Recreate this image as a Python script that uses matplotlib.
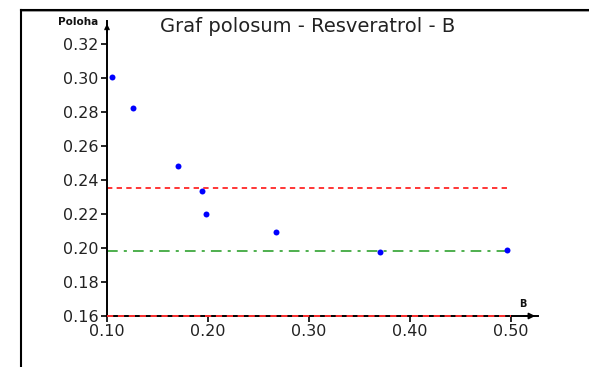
import matplotlib
matplotlib.use("Agg")
import matplotlib.pyplot as plt
from matplotlib.lines import Line2D

# Data
b_values = [0.105, 0.126, 0.1706, 0.1938, 0.1977, 0.2673, 0.370, 0.496]
poloha = [0.3003, 0.2821, 0.2483, 0.2334, 0.2197, 0.2091, 0.1974, 0.1986]
red_level = 0.2353
green_level = 0.198
bottom_level = 0.16
x_ticks = [0.10, 0.20, 0.30, 0.40, 0.50]
y_ticks = [0.16, 0.18, 0.20, 0.22, 0.24, 0.26, 0.28, 0.30, 0.32]
title = "Graf polosum - Resveratrol - B"

W, H = 589, 367
fig = plt.figure(figsize=(W / 100, H / 100), dpi=100)

# axes geometry (pixel based)
x0_px, x50_px, xend_px = 107, 511, 538
y16_px, y32_px, ytop_px = 316, 43.5, 21
px_per_x = (x50_px - x0_px) / 0.4
px_per_y = (y16_px - y32_px) / 0.16
xmax = 0.5 + (xend_px - x50_px) / px_per_x
ymax = 0.32 + (y32_px - ytop_px) / px_per_y

ax = fig.add_axes([x0_px / W, (H - y16_px) / H,
                   (xend_px - x0_px) / W, (y16_px - ytop_px) / H])
ax.set_xlim(0.10, xmax)
ax.set_ylim(0.16, ymax)
for s in ("top", "right"):
    ax.spines[s].set_visible(False)
for s in ("left", "bottom"):
    ax.spines[s].set_linewidth(1.4)
    ax.spines[s].set_color("black")

ax.set_xticks(x_ticks)
ax.set_xticklabels([f"{v:.2f}" for v in x_ticks])
ax.set_yticks(y_ticks)
ax.set_yticklabels([f"{v:.2f}" for v in y_ticks])
ax.tick_params(direction="out", length=4, width=1.2, colors="black",
               labelsize=11.5, labelcolor="#222222", pad=2)

# reference lines
ax.hlines(red_level, 0.10, 0.50, colors="#ff0000", linestyles=(0, (3.5, 2.8)), linewidth=1.1)
ax.hlines(green_level, 0.10, 0.50, colors="#1e9a1e", linestyles=(0, (7, 4, 2, 4)), linewidth=1.1)
ax.hlines(bottom_level, 0.10, 0.50, colors="#ff3030", linestyles=(0, (3.2, 2.4)), linewidth=1.4,
          zorder=5, clip_on=False)

# points
ax.plot(b_values, poloha, "o", color="#0000ff", markersize=4.3, markeredgewidth=0, zorder=6, clip_on=False)

# arrows
ax.annotate("", xy=(1.0, 0), xytext=(0.96, 0), xycoords="axes fraction",
            arrowprops=dict(arrowstyle="-|>", color="black", lw=1.2, mutation_scale=9))
ax.annotate("", xy=(0, 1.0), xytext=(0, 0.95), xycoords="axes fraction",
            arrowprops=dict(arrowstyle="->", color="black", lw=1.2, mutation_scale=7))

# axis names
fig.text(98 / W, 1 - 25 / H, "Poloha", fontsize=7.5, fontweight="bold", ha="right", va="baseline",
         color="#111111")
fig.text(523 / W, 1 - 307 / H, "B", fontsize=7, fontweight="bold", ha="center", va="baseline",
         color="#111111")

# title
fig.text(308 / W, 1 - 32 / H, title, fontsize=14, ha="center", va="baseline", color="#222222")

# window border (top + left)
fig.add_artist(Line2D([20.5 / W, 1.0], [1 - 10 / H, 1 - 10 / H], color="black", lw=1.5,
                      transform=fig.transFigure))
fig.add_artist(Line2D([20.5 / W, 1.0], [1 - 11.2 / H, 1 - 11.2 / H], color="#999999", lw=0.7,
                      transform=fig.transFigure))
fig.add_artist(Line2D([20.5 / W, 20.5 / W], [1 - 10 / H, 0.0], color="black", lw=1.5,
                      transform=fig.transFigure))

fig.savefig("out.png", dpi=100)
